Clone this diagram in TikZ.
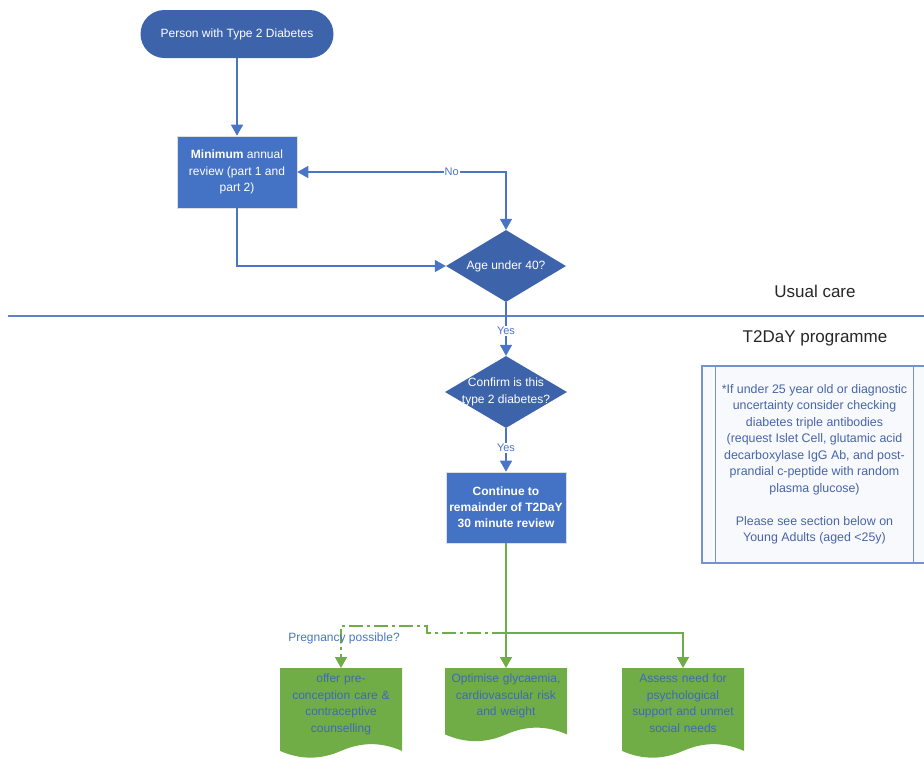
\documentclass[tikz,border=0pt]{standalone}
\usepackage{fontspec}
\setmainfont{Liberation Sans}
\usepackage{tikz}
\usetikzlibrary{shapes.geometric,arrows.meta,calc,positioning}
\definecolor{darkblue}{RGB}{61,99,171}
\definecolor{boxblue}{RGB}{68,114,196}
\definecolor{lineblue}{RGB}{74,116,198}
\definecolor{docgreen}{RGB}{112,173,71}
\definecolor{doctext}{RGB}{66,104,182}
\definecolor{notetext}{RGB}{72,100,168}
\definecolor{noteline}{RGB}{118,146,204}
\definecolor{notefill}{RGB}{247,249,253}

\tikzset{
  txt/.style={font=\fontsize{12}{16.5}\selectfont, align=center},
  terminal/.style={txt, fill=darkblue, text=white, rounded corners=24pt, minimum width=193pt, minimum height=48pt},
  process/.style={txt, fill=boxblue, draw=white!75!gray, line width=0.6pt, text=white, minimum width=120pt, minimum height=72pt, inner sep=0pt},
  decision/.style={diamond, fill=darkblue, minimum width=120pt, minimum height=72pt, inner sep=0pt},
  dectext/.style={txt, text=white},
  docshape/.style={txt, text=doctext, text width=118pt, inner xsep=2pt, inner ysep=6pt, anchor=north,
    execute at end node={\\[3pt]\mbox{}},
    path picture={
      \fill[docgreen] let \p1=(path picture bounding box.south west), \p2=(path picture bounding box.north east) in
        (\x1,\y2) -- (\x2,\y2) -- (\x2,\y1+7pt)
        .. controls (0.17*\x1+0.83*\x2,\y1+16pt) and (0.33*\x1+0.67*\x2,\y1+16pt) .. (0.5*\x1+0.5*\x2,\y1+7pt)
        .. controls (0.67*\x1+0.33*\x2,\y1-2pt) and (0.83*\x1+0.17*\x2,\y1-2pt) .. (\x1,\y1+7pt) -- cycle;
    }},
  tip/.tip={Triangle[length=11pt,width=12pt]},
  flow/.style={lineblue, line width=1.5pt, -tip},
  greenflow/.style={docgreen, line width=1.5pt, -tip},
  flowlabel/.style={font=\fontsize{11}{13}\selectfont, text=lineblue, fill=white, inner sep=1pt},
  section/.style={font=\fontsize{17}{20}\selectfont, text=black!85}
}

\begin{document}
\begin{tikzpicture}[x=1pt, y=-1pt]
  \useasboundingbox (0,0) rectangle (924,758);
  \clip (0,0) rectangle (924,758);

  % usual care
  \node[terminal] (start) at (237,34) {Person with Type 2 Diabetes};
  \node[process] (review) at (237,172) {\textbf{Minimum} annual\\review (part 1 and\\part 2)};
  \node[decision, label={[dectext]center:Age under 40?}] (age) at (506,266) {};

  \draw[flow] (start) -- (review);
  \draw[flow] (review.south) |- (age.west);
  \draw[flow, tip-tip] (review.east) -| (age.north)
    node[flowlabel, pos=0.37] {No};

  % divider
  \coordinate (divL) at (8,316);
  \coordinate (divR) at (924,316);
  \draw[lineblue!90, line width=1.1pt] (divL) -- (divR);
  \node[section] (usual) at (815,291) {Usual care};
  \node[section] (t2day) at (815,338) {T2DaY programme};

  % T2DaY programme
  \node[decision, minimum width=122pt, label={[dectext]center:{Confirm is this\\type 2 diabetes?}}] (confirm) at (506,392) {};
  \node[process, font=\bfseries\fontsize{12}{16}\selectfont, minimum height=71pt] (continue) at (506,507.5) {Continue to\\remainder of T2DaY\\30 minute review};

  \draw[flow] (age.south) -- (confirm.north) node[flowlabel, midway, yshift=-2pt] {Yes};
  \draw[flow] (confirm.south) -- (continue.north) node[flowlabel, pos=0.45] {Yes};

  % note
  \node[draw=noteline, fill=notefill, line width=1.2pt, minimum width=225pt, minimum height=197pt,
    txt, font=\fontsize{12.4}{16.5}\selectfont, text=notetext] (note) at (814.5,464.5)
    {*If under 25 year old or diagnostic\\uncertainty consider checking\\diabetes triple antibodies\\(request Islet Cell, glutamic acid\\decarboxylase IgG Ab, and post-\\prandial c-peptide with random\\plasma glucose)\\[16.5pt]Please see section below on\\Young Adults (aged <25y)};
  \draw[noteline, line width=1.2pt] ($(note.north west)+(14pt,0pt)$) -- ($(note.south west)+(14pt,0pt)$);
  \draw[noteline, line width=1.2pt] ($(note.north east)+(-14pt,0pt)$) -- ($(note.south east)+(-14pt,0pt)$);

  % outcomes
  \node[docshape] (precon) at (341,668) {offer pre-\\conception care \&\\contraceptive\\counselling};
  \node[docshape] (optimise) at (506,668) {Optimise glycaemia,\\cardiovascular risk\\and weight};
  \node[docshape] (assess) at (683,668) {Assess need for\\psychological\\support and unmet\\social needs};

  \coordinate (split) at (506,633);
  \coordinate (step) at (427,633);
  \draw[greenflow] (continue.south) -- (optimise.north);
  \draw[greenflow] (split) -| (assess.north);
  \draw[greenflow, dash pattern=on 14pt off 4pt on 3pt off 4pt] (split) -- (step) -- ++(0,-7) -| (precon.north);
  \node[font=\fontsize{12}{14}\selectfont, text=lineblue] (pregnancy) at (344,638) {Pregnancy possible?};
\end{tikzpicture}
\end{document}
